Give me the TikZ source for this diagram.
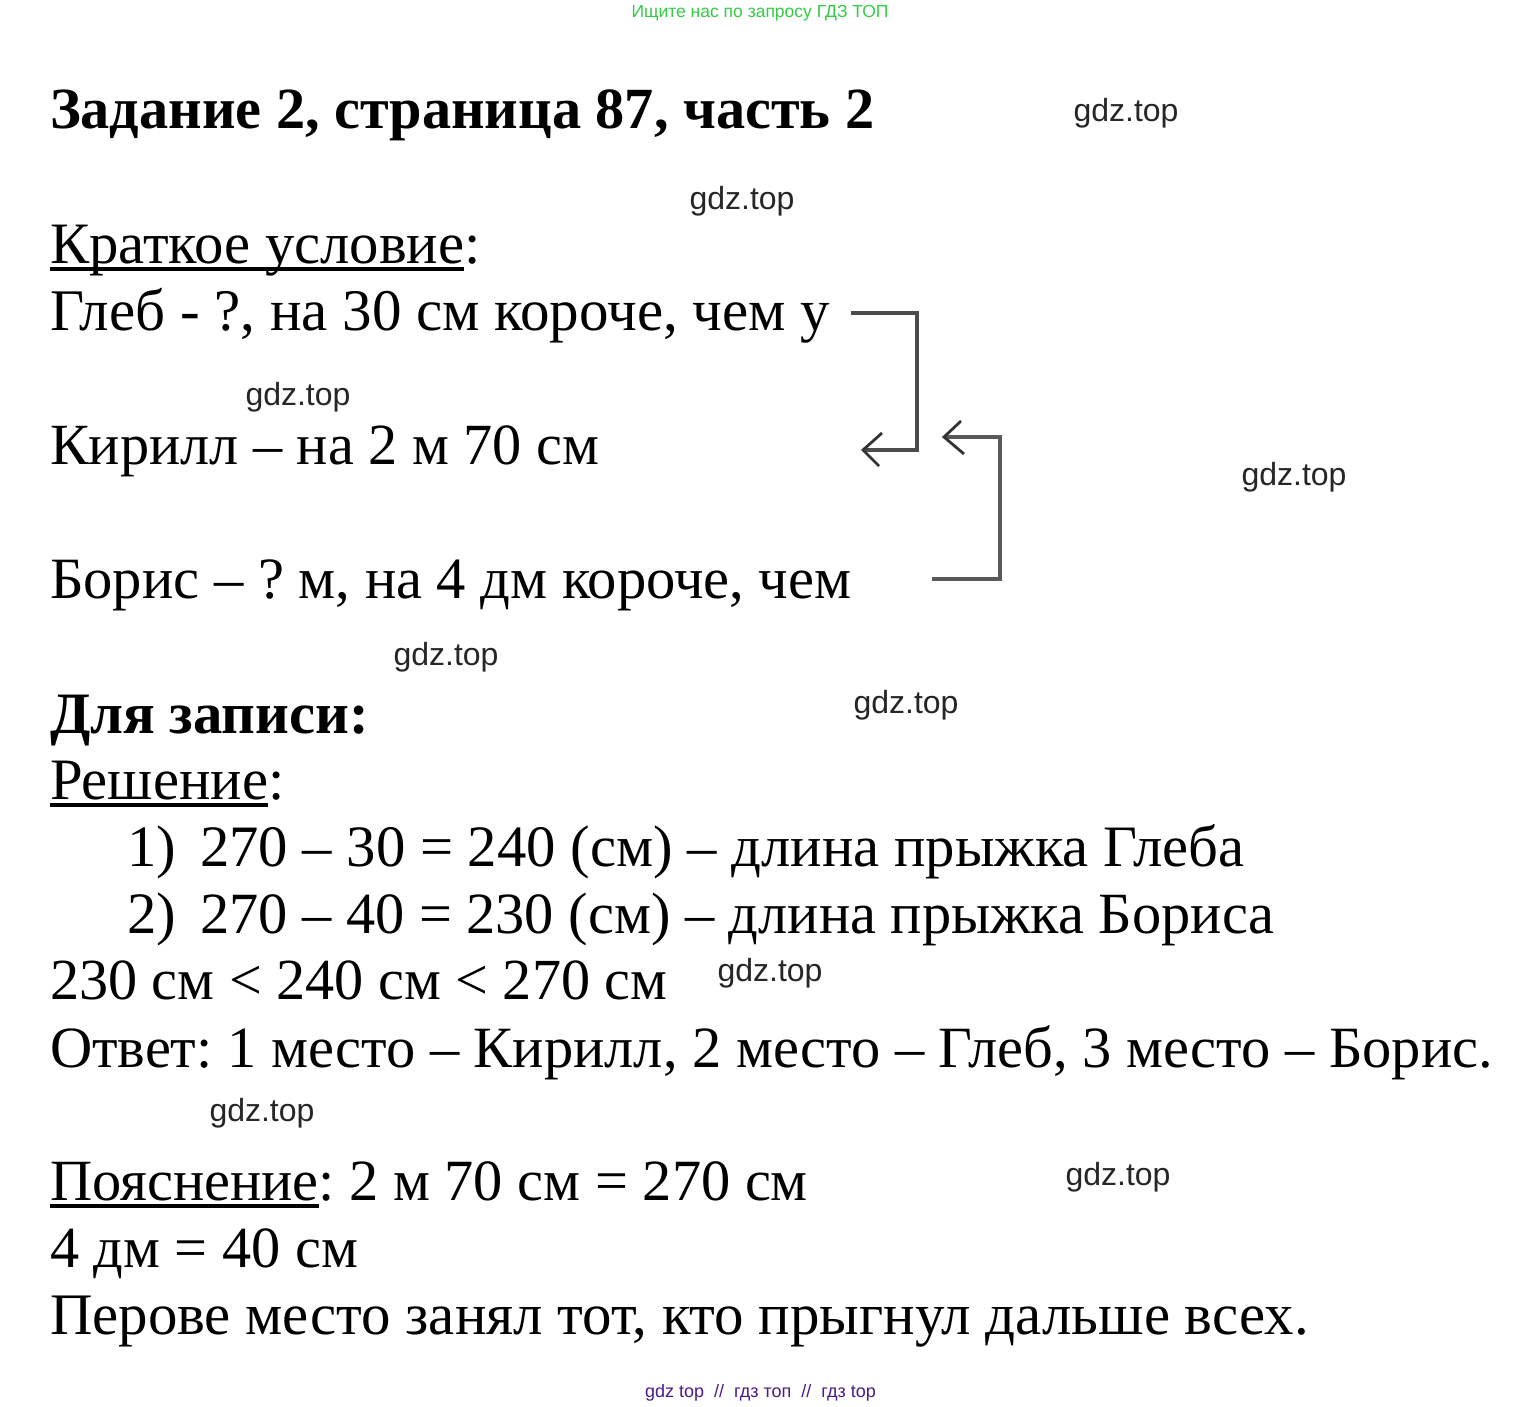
\documentclass[tikz,border=0pt]{standalone}
\usepackage{fontspec}
\setmainfont{Liberation Serif}
\newfontfamily\wmfont{Liberation Sans}
\definecolor{wmgreen}{HTML}{33CC44}
\definecolor{wmpurple}{HTML}{4B1A86}
\newlength{\ulwd}
\newcommand{\myul}[1]{\settowidth{\ulwd}{#1}\makebox[0pt][l]{\rule[-7.5pt]{\ulwd}{3.2pt}}#1}
\newcommand{\fsz}[1]{\fontsize{#1}{#1}\selectfont}
\tikzset{
  txt/.style={anchor=base west,inner sep=0pt,outer sep=0pt,font=\fsz{58.7}\frenchspacing,text=black},
  ttl/.style={txt,font=\fsz{58.7}\bfseries\frenchspacing},
  wm/.style={anchor=base,inner sep=0pt,font=\wmfont\fsz{32}\selectfont,text=black!85},
  brk/.style={line width=3.2pt,black!70},
  brkb/.style={line width=3.8pt,black!65},
  hd/.style={line width=2.8pt,black!80,line join=miter}
}
\begin{document}
\begin{tikzpicture}[x=1pt,y=-1pt]
\useasboundingbox (0,0) rectangle (1522,1406);
\node[anchor=base,inner sep=0pt,font=\wmfont\fsz{17.5},text=wmgreen] (top) at (760,17) {Ищите нас по запросу ГДЗ ТОП};
\node[anchor=base,inner sep=0pt,font=\wmfont\fsz{18},text=wmpurple] (bot) at (760.5,1397) {gdz top \ //\ \ гдз топ \ //\ \ гдз top};
\node[ttl,font=\fsz{58.3}\bfseries\frenchspacing] (t1) at (50,128) {Задание 2, страница 87, часть 2};
\node[txt] (t2) at (50,263) {\myul{Краткое условие}:};
\node[txt,font=\fsz{59}\frenchspacing] (t3) at (50,330) {Глеб - ?, на 30 см короче, чем у};
\node[txt,font=\fsz{58.3}\frenchspacing] (t4) at (50,464) {Кирилл – на 2 м 70 см};
\node[txt,font=\fsz{58.55}\frenchspacing] (t5) at (50,598) {Борис – ? м, на 4 дм короче, чем};
\node[ttl] (t6) at (50,733) {Для записи:};
\node[txt] (t7) at (50,799) {\myul{Решение}:};
\node[txt] (n1) at (127,866) {1)};
\node[txt] (t8) at (200,866) {270 – 30 = 240 (см) – длина прыжка Глеба};
\node[txt] (n2) at (127,933) {2)};
\node[txt,font=\fsz{58.4}\frenchspacing] (t9) at (200,933) {270 – 40 = 230 (см) – длина прыжка Бориса};
\node[txt,font=\fsz{58.2}\frenchspacing] (t10) at (50,999) {230 см < 240 см < 270 см};
\node[txt,font=\fsz{58.45}\frenchspacing] (t11) at (50,1067) {Ответ: 1 место – Кирилл, 2 место – Глеб, 3 место – Борис.};
\node[txt,font=\fsz{58.4}\frenchspacing] (t12) at (50,1200) {\myul{Пояснение}: 2 м 70 см = 270 см};
\node[txt,font=\fsz{58.3}\frenchspacing] (t13) at (50,1267) {4 дм = 40 см};
\node[txt,font=\fsz{58.85}\frenchspacing] (t14) at (50,1334) {Перове место занял тот, кто прыгнул дальше всех.};
\node[wm] (w1) at (1126,121) {gdz.top};
\node[wm] (w2) at (742,209) {gdz.top};
\node[wm] (w3) at (298,405) {gdz.top};
\node[wm] (w4) at (1294,485) {gdz.top};
\node[wm] (w5) at (446,665) {gdz.top};
\node[wm] (w6) at (906,713) {gdz.top};
\node[wm] (w7) at (770,981) {gdz.top};
\node[wm] (w8) at (262,1121) {gdz.top};
\node[wm] (w9) at (1118,1185) {gdz.top};
\coordinate (a0) at (851,313);
\coordinate (a1) at (917,313);
\coordinate (a2) at (917,450);
\coordinate (a3) at (863,450);
\coordinate (b0) at (932,579);
\coordinate (b1) at (1000,579);
\coordinate (b2) at (1000,437);
\coordinate (b3) at (944,437);
\draw[brk] (a0) -- (a1) -- (a2) -- (a3);
\draw[hd] (882,433) -- (a3) -- (879,466);
\draw[brkb] (b0) -- (b1) -- (b2) -- (b3);
\draw[hd] (961,421) -- (b3) -- (964,454);
\end{tikzpicture}
\end{document}
